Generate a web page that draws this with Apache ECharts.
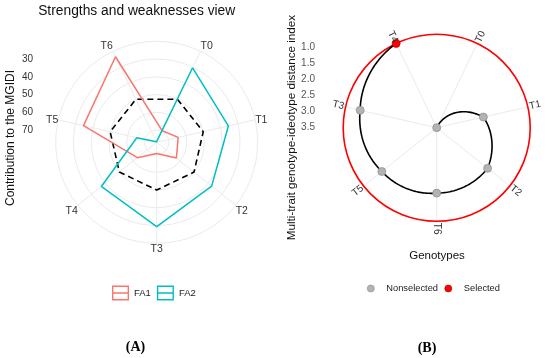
<!DOCTYPE html>
<html><head><meta charset="utf-8">
<script src="https://cdn.jsdelivr.net/npm/echarts/dist/echarts.min.js"></script>
<style>html,body{margin:0;padding:0;background:#fff}#c{width:550px;height:358px}</style>
</head><body><div id="c"></div>
<script>
// ---------- Panel A data: contribution of each factor to the MGIDI ----------
const genotypesA = ['T0','T1','T2','T3','T4','T5','T6'];
const fa1 = [69.7, 64.5, 62.7, 70.6, 63.0, 34.6, 23.4];
const fa2 = [30.3, 35.5, 37.3, 29.4, 37.0, 65.4, 76.6];
const refLevel = 50;
const contribTicks = [30, 40, 50, 60, 70];

// ---------- Panel B data: MGIDI per genotype (angular order) ----------
const genotypesB = ['T0','T1','T2','T6','T5','T3','T4'];
const mgidi = [3.52, 2.02, 1.48, 1.47, 1.32, 1.06, 0.59];
const selectedB = ['T4'];
const mgidiTicks = [1.0, 1.5, 2.0, 2.5, 3.0, 3.5];

const FONT = '"Liberation Sans", Arial, sans-serif';
const nA = genotypesA.length, nB = genotypesB.length;
const startAng = 90 - 360 / (2 * nA);

// geometry
const A = {cx: 156.7, cy: 142.3, R: 101, min: 20, max: 76.9};
const B = {cx: 436.7, cy: 127.7, R: 93.5};
B.max = Math.max(...mgidi); B.min = Math.min(...mgidi);
const pxPerB = B.R / (B.max - B.min);
const bAxisMin = 0.5;
const bGridH = (B.max - bAxisMin) * pxPerB;

const closeRing = arr => arr.map((v, i) => [v, i]).concat([[arr[0], arr.length]]);

const segs = [];
for (let i = 0; i < nB - 1; i++) segs.push([mgidi[i], i, mgidi[i + 1], i + 1]);

const nonSel = [], sel = [];
genotypesB.forEach((g, i) => (selectedB.includes(g) ? sel : nonSel).push([mgidi[i], i]));

const frameIcon = 'path://M0,0H17V15H0Z M1.4,1.4V6.8H15.6V1.4Z M1.4,8.2V13.6H15.6V8.2Z';

const chart = echarts.init(document.getElementById('c'), null, {renderer: 'canvas'});
chart.setOption({
  animation: false,
  backgroundColor: '#fff',
  polar: [
    {center: [A.cx, A.cy], radius: A.R},
    {center: [B.cx, B.cy], radius: B.R}
  ],
  angleAxis: [
    {polarIndex: 0, type: 'value', min: 0, max: nA, interval: 1, startAngle: startAng, clockwise: true,
     axisLine: {show: false}, axisTick: {show: false},
     splitLine: {show: true, lineStyle: {color: '#EBEBEB', width: 1}},
     axisLabel: {show: true, margin: 0, color: '#333', fontSize: 10.5, fontFamily: FONT,
       formatter: v => (genotypesA[v] !== undefined && v < nA ? genotypesA[v] : '')}},
    {polarIndex: 1, type: 'value', min: 0, max: nB, interval: 1, startAngle: startAng, clockwise: true,
     axisLine: {show: true, lineStyle: {color: '#FF0000', width: 1.6}}, axisTick: {show: false},
     splitLine: {show: true, lineStyle: {color: '#EBEBEB', width: 1}},
     axisLabel: {show: false}}
  ],
  radiusAxis: [
    {polarIndex: 0, type: 'value', min: A.min, max: A.max, interval: 10, inverse: true,
     axisLine: {show: false}, axisTick: {show: false}, axisLabel: {show: false},
     splitLine: {show: true, lineStyle: {color: '#EBEBEB', width: 1}}},
    {polarIndex: 1, type: 'value', min: B.min, max: B.max, inverse: true,
     axisLine: {show: false}, axisTick: {show: false}, axisLabel: {show: false},
     splitLine: {show: false}}
  ],
  grid: [
    {left: 41, top: A.cy - A.R, width: 5, height: A.R},
    {left: 323, top: B.cy - bGridH, width: 5, height: bGridH}
  ],
  xAxis: [{gridIndex: 0, show: false, type: 'value'}, {gridIndex: 1, show: false, type: 'value'}],
  yAxis: [
    {gridIndex: 0, type: 'value', min: A.min, max: A.max, interval: 10, inverse: true,
     axisLine: {show: false}, axisTick: {show: false}, splitLine: {show: false},
     axisLabel: {margin: 8, color: '#333', fontSize: 10, fontFamily: FONT, showMaxLabel: false,
       formatter: v => (contribTicks.some(t => Math.abs(t - v) < 1e-6) ? String(v) : '')}},
    {gridIndex: 1, type: 'value', min: bAxisMin, max: B.max, interval: 0.5, inverse: true,
     axisLine: {show: false}, axisTick: {show: false}, splitLine: {show: false},
     axisLabel: {margin: 8, color: '#555', fontSize: 10, fontFamily: FONT, showMaxLabel: false,
       formatter: v => (mgidiTicks.some(t => Math.abs(t - v) < 1e-6) ? v.toFixed(1) : '')}}
  ],
  legend: [
    {left: 112, top: 285.5, padding: 0, itemWidth: 17, itemHeight: 15, itemGap: 6, icon: frameIcon,
     selectedMode: false, textStyle: {fontSize: 9.5, color: '#222', fontFamily: FONT},
     data: [{name: 'FA1', itemStyle: {color: '#F8766D', borderWidth: 0}},
            {name: 'FA2', itemStyle: {color: '#00BFC4', borderWidth: 0}}]},
    {left: 367, top: 284, padding: 0, itemWidth: 17, itemHeight: 7, itemGap: 6.5, icon: 'circle',
     selectedMode: false, textStyle: {fontSize: 9.3, color: '#222', fontFamily: FONT, padding: [0, 0, 0, 2]},
     data: [{name: 'Nonselected', itemStyle: {color: '#B3B3B3', borderColor: '#8C8C8C', borderWidth: 0.6}},
            {name: 'Selected', itemStyle: {color: '#FF0000', borderColor: '#B00000', borderWidth: 0.6}}]}
  ],
  series: [
    {name: 'FA1', type: 'line', coordinateSystem: 'polar', polarIndex: 0, data: closeRing(fa1),
     symbol: 'none', lineStyle: {color: '#F8766D', width: 1.5}, itemStyle: {color: '#F8766D'}, z: 3},
    {name: 'FA2', type: 'line', coordinateSystem: 'polar', polarIndex: 0, data: closeRing(fa2),
     symbol: 'none', lineStyle: {color: '#00BFC4', width: 1.5}, itemStyle: {color: '#00BFC4'}, z: 3},
    {name: 'ref', type: 'line', coordinateSystem: 'polar', polarIndex: 0,
     data: closeRing(genotypesA.map(() => refLevel)),
     symbol: 'none', lineStyle: {color: '#000', width: 1.6, type: [6, 4]}, z: 2},
    {name: 'path', type: 'custom', coordinateSystem: 'polar', polarIndex: 1,
     dimensions: ['r0', 'a0', 'r1', 'a1'], encode: {radius: 0, angle: 1},
     data: segs, z: 2,
     renderItem: (params, api) => {
       const r0 = api.value(0), a0 = api.value(1), r1 = api.value(2), a1 = api.value(3);
       const pts = [];
       for (let k = 0; k <= 40; k++) {
         const t = k / 40;
         pts.push(api.coord([r0 + (r1 - r0) * t, a0 + (a1 - a0) * t]));
       }
       return {type: 'polyline', shape: {points: pts},
               style: {stroke: '#000', lineWidth: 1.6, fill: null, lineCap: 'round', lineJoin: 'round'}};
     }},
    {name: 'Nonselected', type: 'scatter', coordinateSystem: 'polar', polarIndex: 1, data: nonSel,
     symbolSize: 8, itemStyle: {color: '#B3B3B3', borderColor: '#8C8C8C', borderWidth: 0.7, opacity: 1}, z: 4},
    {name: 'Selected', type: 'scatter', coordinateSystem: 'polar', polarIndex: 1, data: sel,
     symbolSize: 8, itemStyle: {color: '#FF0000', borderColor: '#B00000', borderWidth: 0.7, opacity: 1}, z: 4},
    {name: 'labelsB', type: 'custom', coordinateSystem: 'polar', polarIndex: 1,
     data: genotypesB.map((g, i) => [B.max, i]), z: 5,
     renderItem: (params, api) => {
       const i = api.value(1);
       const c = api.coord([B.max, i]);
       const e = api.coord([B.min, i]);
       const dx = e[0] - c[0], dy = e[1] - c[1];
       const len = Math.hypot(dx, dy);
       const ux = dx / len, uy = dy / len;
       const Rl = B.R + 7.5;
       let a = Math.atan2(-uy, ux) * 180 / Math.PI;
       if (a > 90.5) a -= 180; else if (a < -90.5) a += 180;
       return {type: 'text', x: c[0] + ux * Rl, y: c[1] + uy * Rl, rotation: a * Math.PI / 180,
               style: {text: genotypesB[params.dataIndex], fill: '#333', fontSize: 10, fontFamily: FONT,
                       align: 'center', verticalAlign: 'middle', textAlign: 'center', textVerticalAlign: 'middle'}};
     }}
  ],
  graphic: [
    {type: 'text', x: 136.7, y: 11, style: {text: 'Strengths and weaknesses view', font: '13.8px ' + FONT, fill: '#111',
      align: 'center', verticalAlign: 'middle', textAlign: 'center', textVerticalAlign: 'middle'}},
    {type: 'text', x: 11, y: 138, rotation: Math.PI / 2, style: {text: 'Contribution to the MGIDI', font: '12px ' + FONT, fill: '#111',
      align: 'center', verticalAlign: 'middle', textAlign: 'center', textVerticalAlign: 'middle'}},
    {type: 'text', x: 291.5, y: 127.5, rotation: Math.PI / 2, style: {text: 'Multi-trait genotype-ideotype distance index', font: '11.7px ' + FONT, fill: '#111',
      align: 'center', verticalAlign: 'middle', textAlign: 'center', textVerticalAlign: 'middle'}},
    {type: 'text', x: 437, y: 256, style: {text: 'Genotypes', font: '11.5px ' + FONT, fill: '#111',
      align: 'center', verticalAlign: 'middle', textAlign: 'center', textVerticalAlign: 'middle'}},
    {type: 'text', x: 135.5, y: 347.5, style: {text: '(A)', font: 'bold 14px "Liberation Serif", "Times New Roman", serif', fill: '#000',
      align: 'center', verticalAlign: 'middle', textAlign: 'center', textVerticalAlign: 'middle'}},
    {type: 'text', x: 427, y: 348, style: {text: '(B)', font: 'bold 14px "Liberation Serif", "Times New Roman", serif', fill: '#000',
      align: 'center', verticalAlign: 'middle', textAlign: 'center', textVerticalAlign: 'middle'}}
  ]
});
</script>
</body></html>
